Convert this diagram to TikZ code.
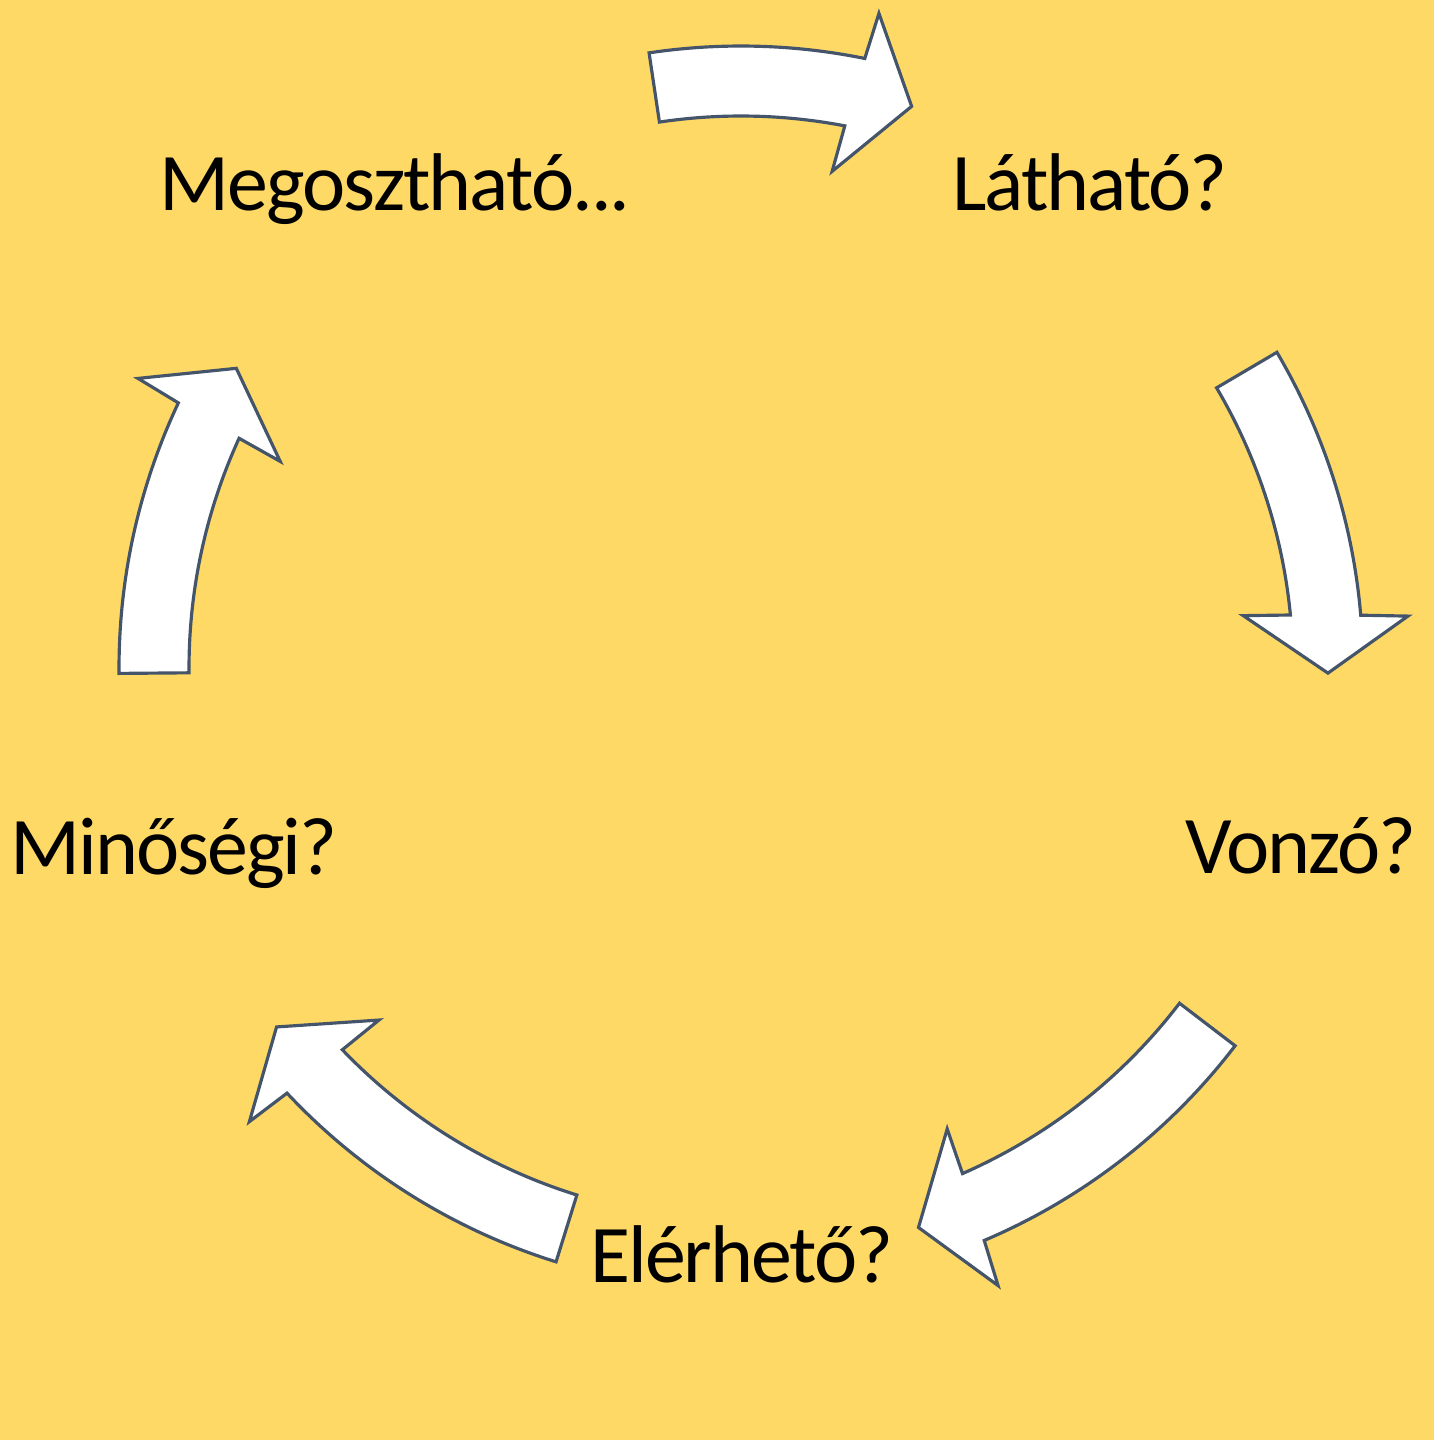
\documentclass[tikz,border=0pt]{standalone}
\usepackage{fontspec}
\setmainfont{Carlito}[LetterSpace=-2.4]

\definecolor{cyclebg}{HTML}{FFD966}
\definecolor{cycleline}{HTML}{44546A}

% curved block arrow round the centre: tail angle, head base angle, tip angle
\newcommand{\cyclearrow}[3]{%
  \draw[cycarr] (#1:6.22) arc[start angle=#1, end angle={#2-0.33}, radius=6.22]
    -- ({#2-0.75}:6.69) -- (#3:5.87) -- ({#2+0.75}:5.05) -- ({#2+0.31}:5.52)
    arc[start angle={#2+0.31}, end angle=#1, radius=5.52] -- cycle;}

\begin{document}
\begin{tikzpicture}[
    question/.style={font=\fontsize{23.3}{28}\selectfont, anchor=base, inner sep=0pt},
    cycarr/.style={draw=cycleline, fill=white, line width=0.9pt, line join=miter}
]
    \fill[cyclebg] (0,0) rectangle (14.34,14.40);

    \begin{scope}[shift={(7.41,7.72)}]
        \cyclearrow{98.5}{78.85}{73.1}
        \cyclearrow{30.5}{5.2}{-0.5}
        \cyclearrow{-37.4}{-66.65}{-72.4}
        \cyclearrow{-107.3}{-136.55}{-142.3}
        \cyclearrow{180.5}{155.1}{149.3}
    \end{scope}

    \node[question] (lathato) at (10.90,12.29) {Látható?};
    \node[question] (vonzo) at (13.01,5.66) {Vonzó?};
    \node[question] (elerheto) at (7.42,1.57) {Elérhető?};
    \node[question] (minosegi) at (1.74,5.65) {Minőségi?};
    \node[question] (megoszthato) at (3.95,12.29) {Megosztható...};
\end{tikzpicture}
\end{document}
